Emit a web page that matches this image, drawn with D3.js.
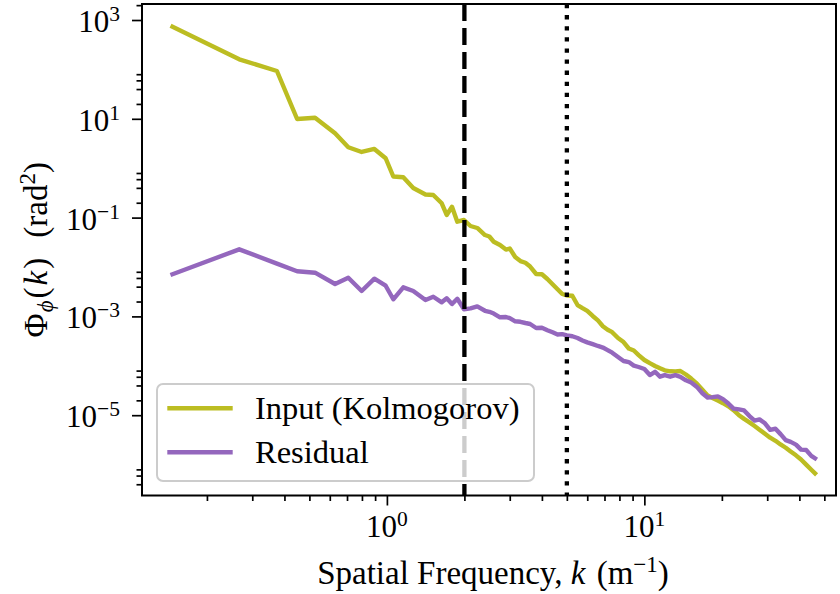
<!DOCTYPE html>
<html lang="en">
<head>
	<meta charset="UTF-8"/>
	<title>Phase power spectrum - input vs residual</title>
	<script src="https://d3js.org/d3.v7.min.js"></script>
	<style>
		body { margin: 0; background: #ffffff; }
		text { font-family: "Liberation Serif", "DejaVu Serif", serif; fill: #000000; }
	</style>
</head>
<body>
<div id="chart"></div>
<script>
	// spatial frequency k (m^-1), shared by both curves
	var freq = [0.147, 0.267, 0.374, 0.448, 0.526, 0.629, 0.708, 0.798, 0.894, 0.989,
		1.059, 1.158, 1.266, 1.412, 1.514, 1.633, 1.707, 1.790, 1.877, 1.993, 2.112, 2.244, 2.404,
		2.5, 2.6, 2.75, 2.9, 3.0, 3.15, 3.3, 3.45, 3.6, 3.8, 4.0, 4.2, 4.4, 4.6, 4.8,
		5.0, 5.25, 5.5, 5.75, 6.0, 6.3, 6.6, 6.9, 7.2, 7.5, 7.9, 8.3, 8.7, 9.1, 9.5,
		10, 10.5, 11, 11.5, 12, 12.6, 13.2, 13.8, 14.5, 15.2, 16, 16.8, 17.6, 18.4, 19.3,
		20.2, 21.2, 22.2, 23.3, 24.4, 25.6, 26.8, 28, 29.4, 30.8, 32.3, 33.8, 35.4, 37, 38.8,
		40.6, 42.5, 44.5, 46];

	// input (Kolmogorov) phase PSD (rad^2)
	var inputPsd = [731, 160, 92.8, 9.91, 10.5, 5.09, 2.66, 2.13, 2.45, 1.59,
		0.679, 0.654, 0.397, 0.294, 0.287, 0.195, 0.113, 0.166, 0.0826, 0.0894, 0.0676, 0.0616, 0.0444,
		0.0414, 0.0325, 0.0279, 0.0225, 0.0237, 0.0159, 0.0132, 0.0122, 0.0102, 0.00722,
		0.00712, 0.00572, 0.00447, 0.00354, 0.00284, 0.00265, 0.00262, 0.00170, 0.00147, 0.00129,
		1.02e-3, 8.30e-4, 6.33e-4, 5.38e-4, 4.79e-4, 3.65e-4, 3.03e-4, 2.24e-4, 2.04e-4, 1.65e-4,
		1.31e-4, 1.13e-4, 9.91e-5, 8.90e-5, 8.11e-5, 7.74e-5, 7.70e-5, 7.85e-5, 6.67e-5, 5.51e-5,
		4.36e-5, 3.28e-5, 2.52e-5, 2.23e-5, 1.97e-5, 1.75e-5, 1.51e-5, 1.26e-5, 1.00e-5, 8.42e-6,
		7.15e-6, 6.02e-6, 5.09e-6, 4.22e-6, 3.50e-6, 3.03e-6, 2.56e-6, 2.19e-6, 1.84e-6, 1.54e-6,
		1.27e-6, 1.00e-6, 7.88e-7, 6.67e-7];

	// residual phase PSD (rad^2)
	var residualPsd = [0.00712, 0.0228, 0.0117, 0.00818, 0.00767, 0.00453, 0.00607, 0.00327, 0.00580, 0.00418,
		0.00222, 0.00388, 0.00327, 0.00215, 0.00250, 0.00193, 0.00232, 0.00178, 0.00228, 0.00139, 0.00145, 0.00159, 0.00130,
		1.24e-3, 1.14e-3, 9.59e-4, 9.72e-4, 9.20e-4, 7.96e-4, 7.77e-4, 7.35e-4, 7.02e-4, 5.82e-4,
		5.88e-4, 5.26e-4, 4.77e-4, 4.30e-4, 4.38e-4, 4.14e-4, 3.97e-4, 3.65e-4, 3.25e-4, 2.98e-4,
		2.74e-4, 2.52e-4, 2.34e-4, 2.08e-4, 1.84e-4, 1.51e-4, 1.25e-4, 1.19e-4, 1.01e-4, 9.46e-5,
		8.61e-5, 6.51e-5, 7.56e-5, 6.02e-5, 6.48e-5, 6.02e-5, 6.45e-5, 5.99e-5, 5.09e-5, 4.59e-5,
		3.74e-5, 2.79e-5, 2.28e-5, 2.32e-5, 2.40e-5, 2.12e-5, 1.72e-5, 1.36e-5, 1.31e-5, 1.25e-5,
		9.59e-6, 7.77e-6, 8.22e-6, 6.86e-6, 5.04e-6, 5.31e-6, 4.14e-6, 3.13e-6, 2.88e-6, 2.54e-6,
		2.01e-6, 1.97e-6, 1.50e-6, 1.34e-6];

	var seriesNames = ["Input (Kolmogorov)", "Residual"];
	var seriesColors = ["#bcbd22", "#9467bd"];

	// tick labels
	var xTickValues = [1, 10];
	var yTickValues = [1e3, 1e1, 1e-1, 1e-3, 1e-5];

	// vertical reference lines
	var dashedK = 2;
	var dottedK = 5;

	//Window Size
	var w = 840;
	var h = 594;
	var plotL = 142, plotR = 836, plotT = 4, plotB = 495.5;

	var xScale = d3.scaleLog()
		.domain([0.1119, 55.5])
		.range([plotL, plotR]);

	var yScale = d3.scaleLog()
		.domain([2.368e-7, 2109])
		.range([plotB, plotT]);

	var svg = d3.select("#chart")
		.append("svg")
		.attr("width", w)
		.attr("height", h)
		.style("display", "block");

	svg.append("rect")
		.attr("width", w)
		.attr("height", h)
		.attr("fill", "#ffffff");

	//minor ticks
	var xMinor = [];
	[-1, 0, 1].forEach(function(e) {
		for (var m = 2; m <= 9; m++) {
			var v = m * Math.pow(10, e);
			if (v > 0.1119 && v < 55.5) xMinor.push(v);
		}
	});
	var yMinor = [];
	[-7, -5, -3, -1, 1, 3].forEach(function(e) {
		[2, 4, 6, 8].forEach(function(m) {
			var v = m * Math.pow(10, e);
			if (v > 2.368e-7 && v < 2109) yMinor.push(v);
		});
	});

	function supText(sel, v) {
		var e = Math.round(Math.log10(v));
		sel.text("10");
		sel.append("tspan")
			.attr("dy", "-11")
			.attr("font-size", "21.5px")
			.text(e < 0 ? "\u2212" + (-e) : "" + e);
	}

	// curves
	var line = d3.line()
		.x(function(d) { return xScale(d[0]); })
		.y(function(d) { return yScale(d[1]); });

	[inputPsd, residualPsd].forEach(function(vals, i) {
		svg.append("path")
			.datum(d3.zip(freq, vals))
			.attr("d", line)
			.attr("fill", "none")
			.attr("stroke", seriesColors[i])
			.attr("stroke-width", 4.4)
			.attr("stroke-linejoin", "round")
			.attr("stroke-linecap", "square");
	});

	// vertical lines at k = 2 and k = 5
	svg.append("line")
		.attr("x1", xScale(dashedK)).attr("x2", xScale(dashedK))
		.attr("y1", plotT).attr("y2", plotB)
		.attr("stroke", "#000").attr("stroke-width", 4.3)
		.attr("stroke-dasharray", "17,7");

	svg.append("line")
		.attr("x1", xScale(dottedK)).attr("x2", xScale(dottedK))
		.attr("y1", plotT).attr("y2", plotB)
		.attr("stroke", "#000").attr("stroke-width", 4.3)
		.attr("stroke-dasharray", "4.3,6.8");

	// axes
	var gx = svg.append("g").attr("transform", "translate(0," + plotB + ")");
	gx.call(d3.axisBottom(xScale).tickValues(xMinor).tickSize(5.5).tickFormat(""));
	gx.append("g").call(d3.axisBottom(xScale).tickValues(xTickValues).tickSize(10).tickFormat(""));

	var gy = svg.append("g").attr("transform", "translate(" + plotL + ",0)");
	gy.call(d3.axisLeft(yScale).tickValues(yMinor).tickSize(5.5).tickFormat(""));
	gy.append("g").call(d3.axisLeft(yScale).tickValues(yTickValues).tickSize(10).tickFormat(""));

	svg.selectAll(".domain").remove();
	svg.selectAll(".tick line").attr("stroke", "#000").attr("stroke-width", 1.7);
	svg.selectAll(".tick text").remove();

	svg.selectAll("text.xlab")
		.data(xTickValues)
		.enter()
		.append("text")
		.attr("class", "xlab")
		.attr("x", function(d) { return xScale(d); })
		.attr("y", 537)
		.attr("text-anchor", "middle")
		.attr("font-size", "31px")
		.each(function(d) { supText(d3.select(this), d); });

	svg.selectAll("text.ylab")
		.data(yTickValues)
		.enter()
		.append("text")
		.attr("class", "ylab")
		.attr("x", 120)
		.attr("y", function(d) { return yScale(d) + 12; })
		.attr("text-anchor", "end")
		.attr("font-size", "31px")
		.each(function(d) { supText(d3.select(this), d); });

	// frame
	svg.append("rect")
		.attr("x", plotL).attr("y", plotT)
		.attr("width", plotR - plotL).attr("height", plotB - plotT)
		.attr("fill", "none")
		.attr("stroke", "#000")
		.attr("stroke-width", 2);

	// axis titles
	var xt = svg.append("text")
		.attr("x", (plotL + plotR) / 2 + 4)
		.attr("y", 584)
		.attr("text-anchor", "middle")
		.attr("font-size", "33px");
	xt.append("tspan").text("Spatial Frequency, ");
	xt.append("tspan").attr("font-style", "italic").text("k");
	xt.append("tspan").attr("dx", "3").text("\u00A0(m");
	xt.append("tspan").attr("dy", "-12").attr("font-size", "23px").text("\u22121");
	xt.append("tspan").attr("dy", "12").text(")");

	var yt = svg.append("text")
		.attr("transform", "translate(47," + ((plotT + plotB) / 2) + ") rotate(-90)")
		.attr("text-anchor", "middle")
		.attr("font-size", "33px");
	yt.append("tspan").text("\u03A6");
	yt.append("tspan").attr("dx", "1").attr("dy", "6").attr("font-size", "23px").attr("font-style", "italic").text("\u03D5");
	yt.append("tspan").attr("dx", "2").attr("dy", "-6").text("(");
	yt.append("tspan").attr("dx", "2").attr("font-style", "italic").text("k");
	yt.append("tspan").attr("dx", "2").text(")");
	yt.append("tspan").attr("dx", "20").text("(rad");
	yt.append("tspan").attr("dy", "-12").attr("font-size", "23px").text("2");
	yt.append("tspan").attr("dy", "12").text(")");

	// legend
	var legend = svg.append("g");
	legend.append("rect")
		.attr("x", 157).attr("y", 384)
		.attr("width", 377).attr("height", 97)
		.attr("rx", 6)
		.attr("fill", "#ffffff").attr("fill-opacity", 0.8)
		.attr("stroke", "#cccccc").attr("stroke-width", 2);

	var items = legend.selectAll("g.item")
		.data(seriesNames)
		.enter()
		.append("g")
		.attr("class", "item")
		.attr("transform", function(d, i) { return "translate(0," + (408.3 + i * 44) + ")"; });

	items.append("line")
		.attr("x1", 167.3).attr("x2", 232.7)
		.attr("stroke", function(d, i) { return seriesColors[i]; })
		.attr("stroke-width", 4.4);

	items.append("text")
		.attr("x", 255)
		.attr("y", 10.5)
		.attr("font-size", "32.5px")
		.text(function(d) { return d; });
</script>
</body>
</html>
